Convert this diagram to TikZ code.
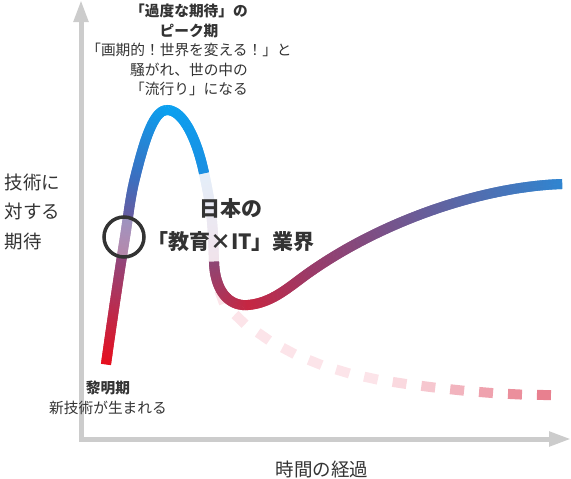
\documentclass[tikz,border=0pt]{standalone}
\usepackage{fontspec}
\setmainfont{Noto Sans CJK JP}
\usepackage{xcolor}
\usepackage{tikz}
\usetikzlibrary{arrows.meta,decorations.markings}

\definecolor{axisgray}{HTML}{CCCCCC}
\definecolor{txtgray}{HTML}{333333}
\definecolor{dawnred}{HTML}{E60F1E}
\definecolor{ringpurple}{HTML}{7F5290}
\definecolor{risingblue}{HTML}{3B6FC0}
\definecolor{peaksky}{HTML}{0AA0F0}
\definecolor{dropsky}{HTML}{1A8FE2}
\definecolor{fadetop}{HTML}{E4EEF9}
\definecolor{fadebottom}{HTML}{F1E3EB}
\definecolor{troughin}{HTML}{8E4675}
\definecolor{troughred}{HTML}{C62642}
\definecolor{slopeplum}{HTML}{9A3A68}
\definecolor{plateaublue}{HTML}{2E86D2}
\definecolor{dashpale}{HTML}{FCE4E9}
\definecolor{dashpink}{HTML}{E8808F}

\begin{document}
\begin{tikzpicture}[
  x=1pt, y=1pt,
  axis/.style={line width=5pt, axisgray, line join=miter},
  grad/.style 2 args={postaction={decorate, decoration={markings,
    mark=between positions 0 and 1 step 0.5pt with {
      \pgfmathtruncatemacro\gp{\pgfkeysvalueof{/pgf/decoration/mark info/distance from start}/\pgfdecoratedpathlength*100}
      \draw[line width=10pt, color={#2!\gp!#1}] (-0.5pt,0) -- (0.5pt,0);
    }}}},
  dashgrad/.style={postaction={decorate, decoration={markings,
    mark=between positions 0 and 1 step 29pt with {
      \pgfmathtruncatemacro\gp{max(0,min(100,(\pgfkeysvalueof{/pgf/decoration/mark info/distance from start}/\pgfdecoratedpathlength-0.55)/0.4*100))}
      \draw[line width=10pt, color={dashpink!\gp!dashpale}] (0,0) -- (14pt,0);
    }}}},
  focusring/.style={circle, draw=txtgray, line width=3.5pt, minimum size=40pt, inner sep=0pt, fill=white, fill opacity=0.35},
  note/.style={text=txtgray, align=center, font=\fontsize{14.7pt}{19.5pt}\selectfont},
  axislabel/.style={text=txtgray, font=\fontsize{18.5pt}{29.5pt}\selectfont}
]
  \useasboundingbox (0,0) rectangle (571,-479);

  % Axes
  \draw[axis, {Triangle[length=22pt,width=14pt]}-{Triangle[length=22pt,width=14pt]}]
    (81,0) -- (81,-439) -- (571,-439);

  % Dashed path: the decline that goes on
  \path[dashgrad] (214,-262) .. controls +(-86:28) and +(140:22) .. (240,-319)
    .. controls +(-40:60) and +(172:60) .. (400,-383)
    .. controls +(-8:50) and +(180:50) .. (550,-395);

  % Fading part after the peak
  \path[grad={fadetop}{fadebottom}] (204,-173) .. controls +(-78:40) and +(92:40) .. (214,-262);

  % Trough and slope up to the plateau
  \path[grad={troughin}{troughred}] (214,-262) .. controls +(-88:28) and +(185:20) .. (248,-305);
  \path[grad={troughred}{slopeplum}] (248,-305) .. controls +(5:25) and +(215:25) .. (310,-272);
  \path[grad={slopeplum}{plateaublue}] (310,-272) .. controls +(35:90) and +(182:80) .. (562,-184);

  % Rise to the peak
  \path[grad={dawnred}{ringpurple}] (106,-364) .. controls +(82:45) and +(-99:45) .. (125,-237);
  \path[grad={ringpurple}{risingblue}] (125,-237) .. controls +(81:20) and +(-104:20) .. (135,-178);
  \path[grad={risingblue}{peaksky}] (135,-178) .. controls +(76:35) and +(180:14) .. (167,-110);
  \path[grad={peaksky}{dropsky}] (167,-110) .. controls +(0:16) and +(102:35) .. (204,-173);

  % Where the field stands
  \node[focusring] (focus) at (124,-237) {};

  % Labels
  \node[note] (peaklbl) at (189,-50) {\textbf{「過度な期待」の}\\\textbf{ピーク期}\\「画期的！世界を変える！」と\\騒がれ、世の中の\\「流行り」になる};
  \node[note] (dawnlbl) at (108,-398) {\textbf{黎明期}\\新技術が生まれる};
  \node[text=txtgray, align=center, font=\bfseries\fontsize{21pt}{33pt}\selectfont] (fieldlbl) at (231,-225) {日本の\\「教育×IT」業界};
  \node[axislabel, align=left, anchor=west] (ylbl) at (1,-212) {技術に\\対する\\期待};
  \node[axislabel] (xlbl) at (322,-469) {時間の経過};
\end{tikzpicture}
\end{document}
